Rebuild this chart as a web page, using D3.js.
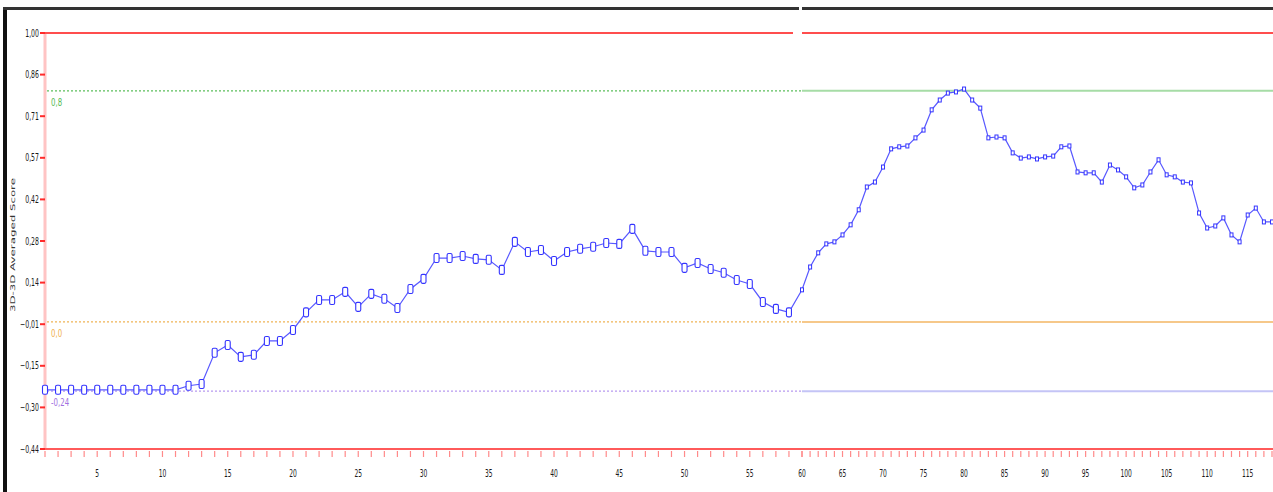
<!DOCTYPE html>
<html>
<head>
<meta charset="utf-8">
<script src="https://cdn.jsdelivr.net/npm/d3@7/dist/d3.min.js"></script>
<style>
  html, body { margin: 0; padding: 0; background: #fff; }
  svg { display: block; }
</style>
</head>
<body>
<svg id="chart" width="1273" height="492"></svg>
<script>
// Runs 1..58 (wide spacing) and runs 60..118 (compressed segment)
const leftRuns = d3.range(1, 59);
const leftScores = [
  -0.235, -0.235, -0.235, -0.235, -0.235, -0.235, -0.235, -0.235, -0.235, -0.235,
  -0.235, -0.221, -0.215, -0.107, -0.080, -0.121, -0.114, -0.066, -0.066, -0.028,
   0.033,  0.076,  0.076,  0.104,  0.052,  0.097,  0.080,  0.048,  0.114,  0.149,
   0.221,  0.221,  0.228,  0.218,  0.215,  0.180,  0.277,  0.242,  0.249,  0.211,
   0.242,  0.253,  0.260,  0.273,  0.270,  0.322,  0.246,  0.242,  0.242,  0.187,
   0.204,  0.183,  0.170,  0.145,  0.131,  0.069,  0.045,  0.033
];
const rightRuns = d3.range(60, 119);
const rightScores = [
  0.111, 0.190, 0.239, 0.270, 0.277, 0.301, 0.336, 0.388, 0.467, 0.484,
  0.536, 0.599, 0.606, 0.609, 0.637, 0.664, 0.734, 0.768, 0.792, 0.796,
  0.806, 0.768, 0.740, 0.637, 0.640, 0.637, 0.585, 0.567, 0.571, 0.564,
  0.571, 0.574, 0.606, 0.609, 0.519, 0.516, 0.516, 0.484, 0.543, 0.526,
  0.502, 0.464, 0.474, 0.519, 0.561, 0.509, 0.502, 0.484, 0.481, 0.377,
  0.325, 0.332, 0.360, 0.301, 0.277, 0.370, 0.394, 0.346, 0.346
];

const yTickValues = [1.00, 0.856, 0.712, 0.568, 0.424, 0.28, 0.136, -0.008, -0.152, -0.296, -0.44];
const xLabelValues = [5, 10, 15, 20, 25, 30, 35, 40, 45, 50, 55, 60, 65, 70, 75, 80, 85, 90, 95, 100, 105, 110, 115];

// Reference levels with their labels
const refValues = [0.8, 0.0, -0.24];
const refLabels = ["0,8", "0,0", "-0,24"];
const refDotColors = ["#5cbf5c", "#f0b455", "#b89af0"];
const refSolidColors = ["#a6dca6", "#f6c88a", "#c4c4f6"];
const refTextColors = ["#55bb55", "#f0b050", "#a070e0"];

const yTitle = "3D-3D Averaged Score";

const W = 1273, H = 492;
const svg = d3.select("#chart");

const x = d3.scaleLinear().domain([1, 59, 60, 118]).range([45, 802, 802, 1272]);
const y = d3.scaleLinear().domain([-0.44, 1.0]).range([449, 33]);
const breakX = x(59);

const comma = v => d3.format(".2f")(v).replace(".", ",");

// frame
svg.append("rect").attr("x", 3).attr("y", 7).attr("width", 4).attr("height", H - 7).attr("fill", "#111");
svg.append("rect").attr("x", 3).attr("y", 7).attr("width", breakX - 6).attr("height", 3).attr("fill", "#333");
svg.append("rect").attr("x", breakX).attr("y", 7).attr("width", W - breakX).attr("height", 3).attr("fill", "#333");

// left axis band
svg.append("line").attr("x1", x(1)).attr("x2", x(1)).attr("y1", y(1.0)).attr("y2", y(-0.44))
  .attr("stroke", "#ffc4c4").attr("stroke-width", 3);

// top and bottom limit lines
svg.append("line").attr("x1", x(1) - 2).attr("x2", breakX - 9).attr("y1", y(1.0)).attr("y2", y(1.0))
  .attr("stroke", "#ff4d4d").attr("stroke-width", 2);
svg.append("line").attr("x1", breakX).attr("x2", W).attr("y1", y(1.0)).attr("y2", y(1.0))
  .attr("stroke", "#ff4d4d").attr("stroke-width", 2);
svg.append("line").attr("x1", x(1) - 2).attr("x2", W).attr("y1", y(-0.44)).attr("y2", y(-0.44))
  .attr("stroke", "#ff5a5a").attr("stroke-width", 2);

// y ticks and labels
const yAxis = svg.append("g");
yTickValues.forEach(v => {
  yAxis.append("line").attr("x1", x(1) - 5).attr("x2", x(1)).attr("y1", y(v)).attr("y2", y(v))
    .attr("stroke", "#ff2a2a").attr("stroke-width", 2);
  yAxis.append("text")
    .attr("transform", `translate(${x(1) - 6},${y(v) + 3.5}) scale(0.62,1)`)
    .attr("text-anchor", "end")
    .attr("font-family", "DejaVu Sans").attr("font-size", 10).attr("fill", "#1a1a1a")
    .text(comma(v));
});

// y title
svg.append("text")
  .attr("transform", `translate(15,245) rotate(-90)`)
  .attr("text-anchor", "middle")
  .attr("font-family", "DejaVu Sans").attr("font-size", 6.5).attr("fill", "#333")
  .attr("textLength", 134).attr("lengthAdjust", "spacingAndGlyphs")
  .text(yTitle);

// x ticks
const xTicks = leftRuns.concat([59], rightRuns);
svg.append("g").selectAll("line").data(xTicks).join("line")
  .attr("x1", d => x(d)).attr("x2", d => x(d))
  .attr("y1", y(-0.44) + 2).attr("y2", y(-0.44) + 8)
  .attr("stroke", "#ff8a8a").attr("stroke-width", 1.2);

svg.append("g").selectAll("text").data(xLabelValues).join("text")
  .attr("transform", d => `translate(${x(d)},477) scale(0.6,1)`)
  .attr("text-anchor", "middle")
  .attr("font-family", "DejaVu Sans").attr("font-size", 10).attr("fill", "#1a1a1a")
  .text(d => d);

// reference levels: dotted before the break, solid after it
refValues.forEach((v, i) => {
  svg.append("line").attr("x1", x(1) + 2).attr("x2", breakX).attr("y1", y(v)).attr("y2", y(v))
    .attr("stroke", refDotColors[i]).attr("stroke-width", 1.3).attr("stroke-dasharray", "2,2");
  svg.append("line").attr("x1", breakX).attr("x2", W).attr("y1", y(v)).attr("y2", y(v))
    .attr("stroke", refSolidColors[i]).attr("stroke-width", 2);
  svg.append("text")
    .attr("transform", `translate(${x(1) + 6},${y(v) + 15}) scale(0.7,1)`)
    .attr("font-family", "DejaVu Sans").attr("font-size", 10).attr("fill", refTextColors[i])
    .text(refLabels[i]);
});

// score series
const pts = leftRuns.map((r, i) => ({ r, v: leftScores[i], side: "L" }))
  .concat(rightRuns.map((r, i) => ({ r, v: rightScores[i], side: "R" })));

svg.append("path").datum(pts)
  .attr("fill", "none").attr("stroke", "#5858ff").attr("stroke-width", 1.2)
  .attr("d", d3.line().x(d => x(d.r)).y(d => y(d.v)));

svg.append("g").selectAll("rect").data(pts.filter(d => d.side === "L")).join("rect")
  .attr("x", d => x(d.r) - 2.5).attr("y", d => y(d.v) - 4.5)
  .attr("width", 5).attr("height", 9).attr("rx", 1.5)
  .attr("fill", "#fff").attr("stroke", "#3434ff").attr("stroke-width", 1.1);

svg.append("g").selectAll("rect").data(pts.filter(d => d.side === "R")).join("rect")
  .attr("x", d => x(d.r) - 1.5).attr("y", d => y(d.v) - 2)
  .attr("width", 3).attr("height", 4)
  .attr("fill", "#fff").attr("stroke", "#3434ff").attr("stroke-width", 1).attr("fill-opacity", 1);
</script>
</body>
</html>
